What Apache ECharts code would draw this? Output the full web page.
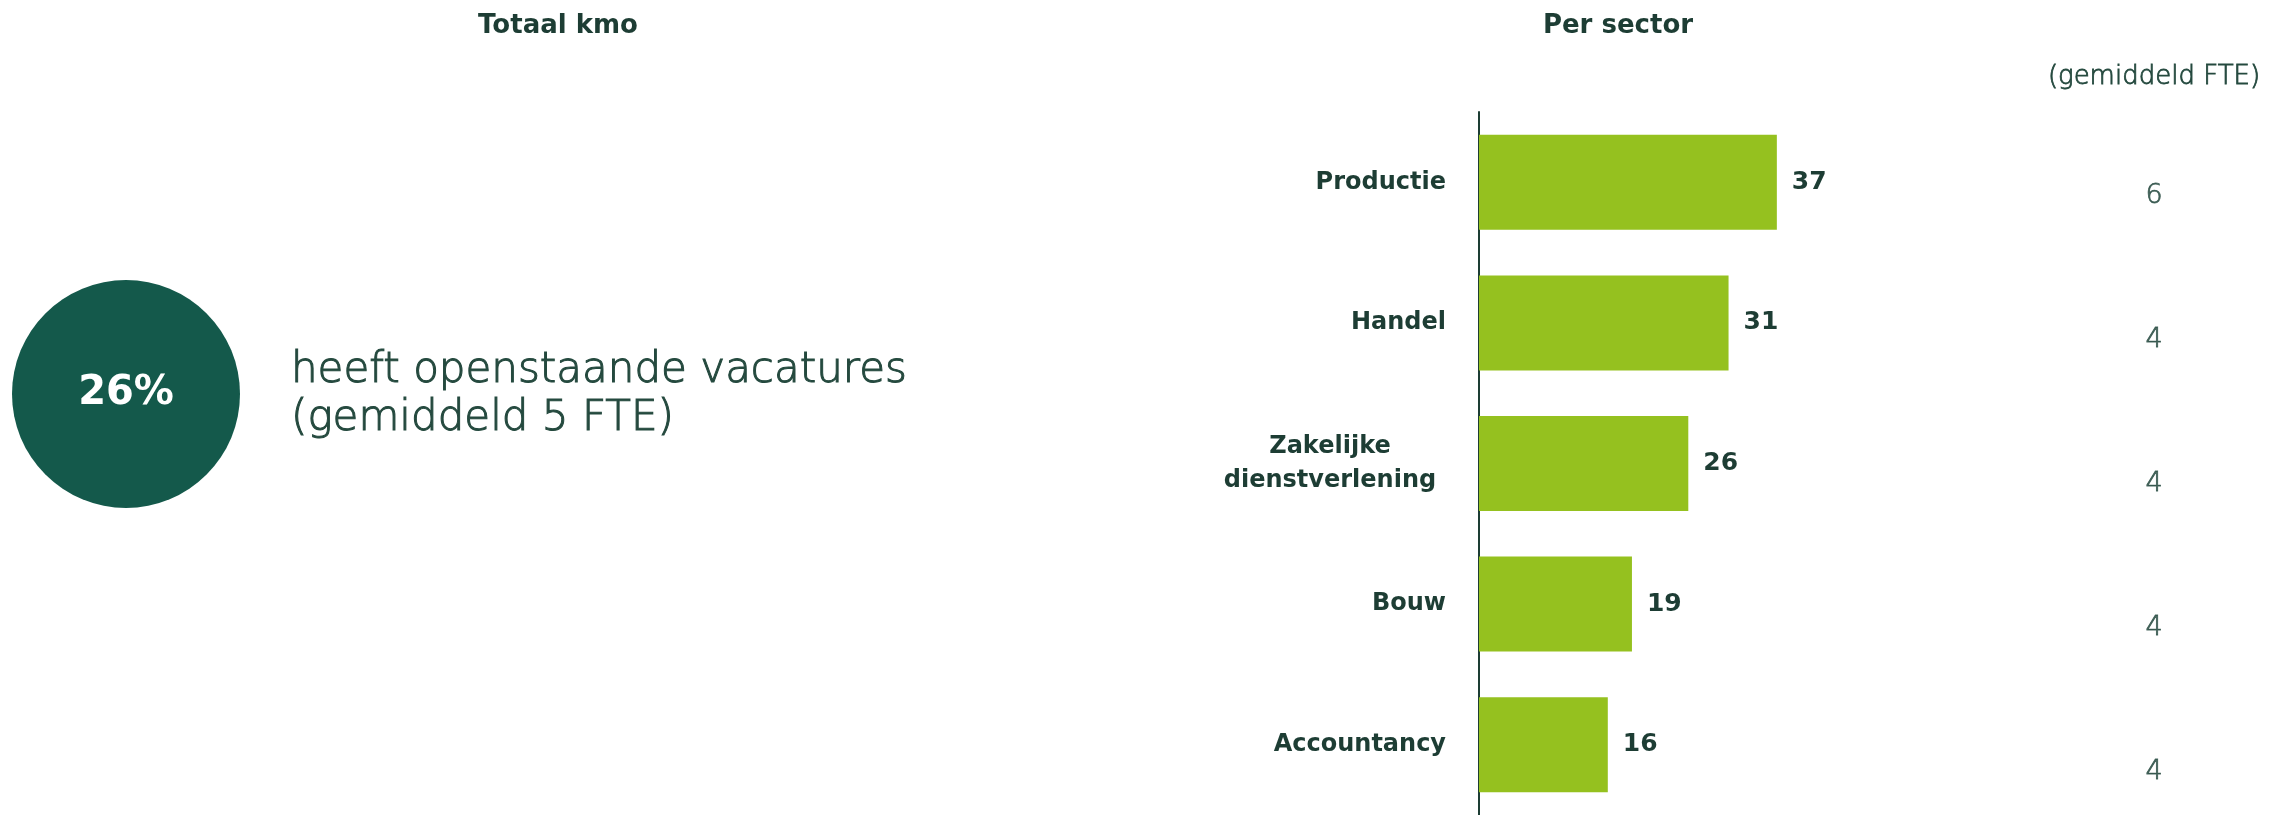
<!DOCTYPE html>
<html>
<head>
<meta charset="utf-8">
<script src="https://cdn.jsdelivr.net/npm/echarts@6/dist/echarts.min.js"></script>
<style>
html,body{margin:0;padding:0;background:#fff;}
#chart{width:2288px;height:815px;}
</style>
</head>
<body>
<div id="chart"></div>
<script>
// ---- data ----
const categories = ['Productie', 'Handel', 'Zakelijke\ndienstverlening', 'Bouw', 'Accountancy'];
const pctValues = [37, 31, 26, 19, 16];
const fteValues = [6, 4, 4, 4, 4];
const totalPct = 26;
const totalFte = 5;
const titleLeft = 'Totaal kmo';
const titleRight = 'Per sector';
const fteHeader = '(gemiddeld FTE)';
const totalText = ['heeft openstaande vacatures', '(gemiddeld ' + totalFte + ' FTE)'];

const dark = '#1d3d34';
const lightText = '#24493e';
const green = '#95c11f';
const circleGreen = '#14594b';
const FONT = '"DejaVu Sans", "Noto Sans", sans-serif';

const chart = echarts.init(document.getElementById('chart'), null, {renderer: 'canvas'});

chart.setOption({
  backgroundColor: '#ffffff',
  animation: false,
  textStyle: {fontFamily: FONT},
  graphic: [
    {type: 'text', x: 558, y: 26, style: {text: titleLeft, align: 'center', verticalAlign: 'middle', font: '700 26px ' + FONT, fill: dark}},
    {type: 'text', x: 1618, y: 26, style: {text: titleRight, align: 'center', verticalAlign: 'middle', font: '700 26px ' + FONT, fill: dark}},
    {type: 'text', x: 2154, y: 77, style: {text: fteHeader, align: 'center', verticalAlign: 'middle', font: '200 26px ' + FONT, fill: lightText, stroke: lightText, lineWidth: 0.8}},
    {type: 'circle', shape: {cx: 126, cy: 394, r: 114}, style: {fill: circleGreen}},
    {type: 'text', x: 126, y: 394, style: {text: totalPct + '%', align: 'center', verticalAlign: 'middle', font: '700 40px ' + FONT, fill: '#ffffff'}},
    {type: 'text', x: 291, y: 395, style: {text: totalText.join('\n'), align: 'left', verticalAlign: 'middle', font: '200 42px ' + FONT, lineHeight: 48, fill: lightText, stroke: lightText, lineWidth: 1.0}}
  ],
  grid: [
    {left: 1479, top: 112, width: 805, height: 707, containLabel: false},
    {left: 2104, top: 196, width: 100, height: 576, containLabel: false}
  ],
  xAxis: [
    {gridIndex: 0, type: 'value', min: 0, max: 100, show: false},
    {gridIndex: 1, type: 'value', min: 0, max: 1, show: false}
  ],
  yAxis: [
    {
      gridIndex: 0, type: 'category', inverse: true, data: categories,
      axisLine: {show: true, lineStyle: {color: dark, width: 2}},
      axisTick: {show: false},
      splitLine: {show: false},
      axisLabel: {
        margin: 33, color: dark, fontSize: 24, fontWeight: 600, fontFamily: FONT, align: 'right', lineHeight: 34,
        formatter: function (v) {
          if (v.indexOf('\n') >= 0) {
            return v.split('\n').map(function (s) { return '{z|' + s + '}'; }).join('\n');
          }
          return v;
        },
        rich: {z: {width: 232, align: 'center', fontSize: 24, fontWeight: 600, color: dark, fontFamily: FONT, lineHeight: 34}}
      }
    },
    {gridIndex: 1, type: 'value', inverse: true, min: 0, max: categories.length - 1, show: false}
  ],
  series: [
    {
      type: 'bar', xAxisIndex: 0, yAxisIndex: 0, data: pctValues, barWidth: 95,
      itemStyle: {color: green},
      label: {show: true, position: 'right', distance: 15, color: dark, fontSize: 25, fontWeight: 700, fontFamily: FONT}
    },
    {
      type: 'scatter', xAxisIndex: 1, yAxisIndex: 1,
      data: fteValues.map(function (v, i) { return [0.5, i, v]; }),
      symbolSize: 1, itemStyle: {color: 'rgba(0,0,0,0)'},
      label: {show: true, position: 'inside', formatter: function (p) { return p.value[2]; }, color: lightText, fontSize: 27, fontWeight: 200, fontFamily: FONT, textBorderColor: lightText, textBorderWidth: 0.8}
    }
  ]
});
</script>
</body>
</html>
